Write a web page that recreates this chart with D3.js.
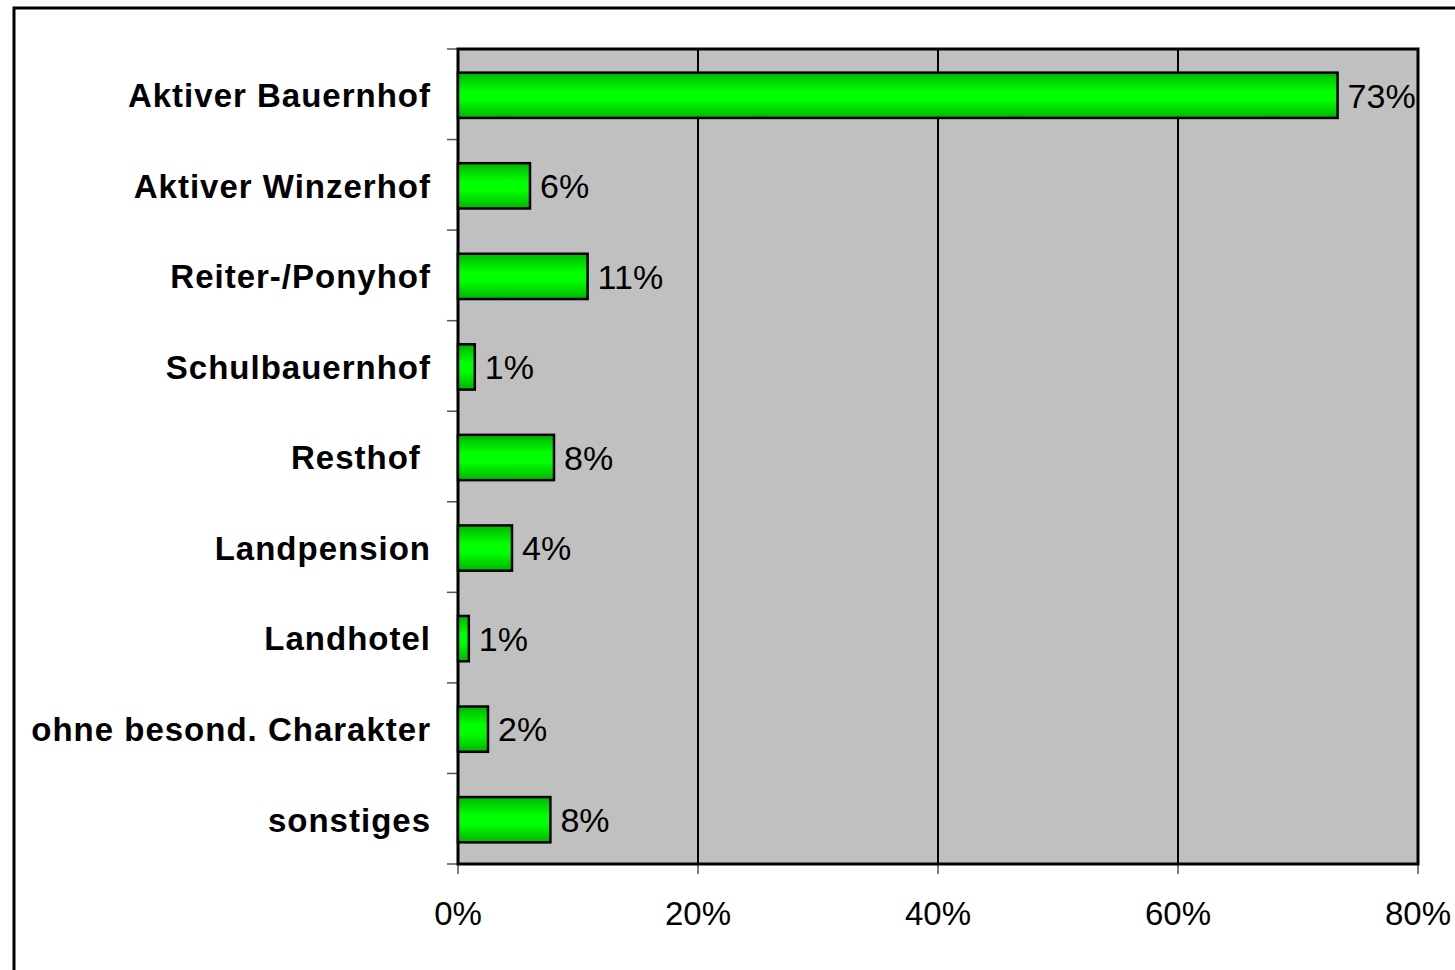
<!DOCTYPE html>
<html>
<head>
<meta charset="utf-8">
<script src="https://cdn.jsdelivr.net/npm/d3@7"></script>
<style>
  html, body { margin: 0; padding: 0; background: #fff; }
  svg { display: block; }
  text { font-family: "Liberation Sans", Arial, sans-serif; }
</style>
</head>
<body>
<svg id="chart" width="1455" height="970"></svg>
<script>
// categories, top to bottom
const categories = [
  "Aktiver Bauernhof",
  "Aktiver Winzerhof",
  "Reiter-/Ponyhof",
  "Schulbauernhof",
  "Resthof ",
  "Landpension",
  "Landhotel",
  "ohne besond. Charakter",
  "sonstiges"
];
// shares in percent
const values = [73.3, 6.0, 10.8, 1.4, 8.0, 4.5, 0.9, 2.5, 7.7];
// labels printed next to the bars
const valueLabels = ["73%", "6%", "11%", "1%", "8%", "4%", "1%", "2%", "8%"];
const ticks = [0, 20, 40, 60, 80];

const svg = d3.select("#chart");
const plot = {left: 458, right: 1418, top: 49, bottom: 864};

const x = d3.scaleLinear().domain([0, 80]).range([plot.left, plot.right]);
const y = d3.scaleBand().domain(categories).range([plot.top, plot.bottom])
    .paddingInner(0.5).paddingOuter(0.25);
const band = d3.scaleBand().domain(categories).range([plot.top, plot.bottom]);

// outer frame
svg.append("rect")
    .attr("x", 14).attr("y", 8)
    .attr("width", 1500).attr("height", 1000)
    .attr("fill", "none").attr("stroke", "#000").attr("stroke-width", 3);

const defs = svg.append("defs");
const grad = defs.append("linearGradient")
    .attr("id", "barFill").attr("x1", 0).attr("y1", 0).attr("x2", 0).attr("y2", 1);
grad.append("stop").attr("offset", "0%").attr("stop-color", "#00b400");
grad.append("stop").attr("offset", "40%").attr("stop-color", "#00ff00");
grad.append("stop").attr("offset", "60%").attr("stop-color", "#00ff00");
grad.append("stop").attr("offset", "100%").attr("stop-color", "#00b400");

// plot background
svg.append("rect")
    .attr("x", plot.left).attr("y", plot.top)
    .attr("width", plot.right - plot.left).attr("height", plot.bottom - plot.top)
    .attr("fill", "#c0c0c0");

// vertical grid lines
svg.append("g")
  .selectAll("line")
  .data(ticks.slice(1, -1))
  .join("line")
    .attr("x1", d => x(d)).attr("x2", d => x(d))
    .attr("y1", plot.top).attr("y2", plot.bottom)
    .attr("stroke", "#000").attr("stroke-width", 2);

// left axis tick marks at band boundaries
svg.append("g")
  .selectAll("line")
  .data(categories.concat([null]))
  .join("line")
    .attr("x1", plot.left - 11).attr("x2", plot.left)
    .attr("y1", d => d ? band(d) : plot.bottom)
    .attr("y2", d => d ? band(d) : plot.bottom)
    .attr("stroke", "#555").attr("stroke-width", 1.5);

// bottom tick marks
svg.append("g")
  .selectAll("line")
  .data(ticks)
  .join("line")
    .attr("x1", d => x(d)).attr("x2", d => x(d))
    .attr("y1", plot.bottom).attr("y2", plot.bottom + 10)
    .attr("stroke", "#555").attr("stroke-width", 1.5);

// plot border
svg.append("rect")
    .attr("x", plot.left).attr("y", plot.top)
    .attr("width", plot.right - plot.left).attr("height", plot.bottom - plot.top)
    .attr("fill", "none").attr("stroke", "#000").attr("stroke-width", 3);

// bars
svg.append("g")
  .selectAll("rect")
  .data(values)
  .join("rect")
    .attr("x", x(0))
    .attr("y", (d, i) => y(categories[i]) + 1)
    .attr("width", d => x(d) - x(0))
    .attr("height", y.bandwidth())
    .attr("fill", "url(#barFill)")
    .attr("stroke", "#000").attr("stroke-width", 2.5);

// value labels
svg.append("g")
  .selectAll("text")
  .data(values)
  .join("text")
    .attr("x", d => x(d) + 10)
    .attr("y", (d, i) => y(categories[i]) + y.bandwidth() / 2 + 1)
    .attr("dy", "0.36em")
    .attr("font-size", 34)
    .attr("fill", "#000")
    .text((d, i) => valueLabels[i]);

// category labels
svg.append("g")
  .selectAll("text")
  .data(categories)
  .join("text")
    .attr("x", 431)
    .attr("y", d => y(d) + y.bandwidth() / 2 + 1)
    .attr("dy", "0.36em")
    .attr("text-anchor", "end")
    .attr("font-size", 33)
    .attr("font-weight", "bold")
    .attr("letter-spacing", 1)
    .style("white-space", "pre")
    .attr("fill", "#000")
    .text(d => d);

// x tick labels
svg.append("g")
  .selectAll("text")
  .data(ticks)
  .join("text")
    .attr("x", d => x(d))
    .attr("y", 913)
    .attr("dy", "0.36em")
    .attr("text-anchor", "middle")
    .attr("font-size", 33)
    .attr("fill", "#000")
    .text(d => d + "%");
</script>
</body>
</html>
